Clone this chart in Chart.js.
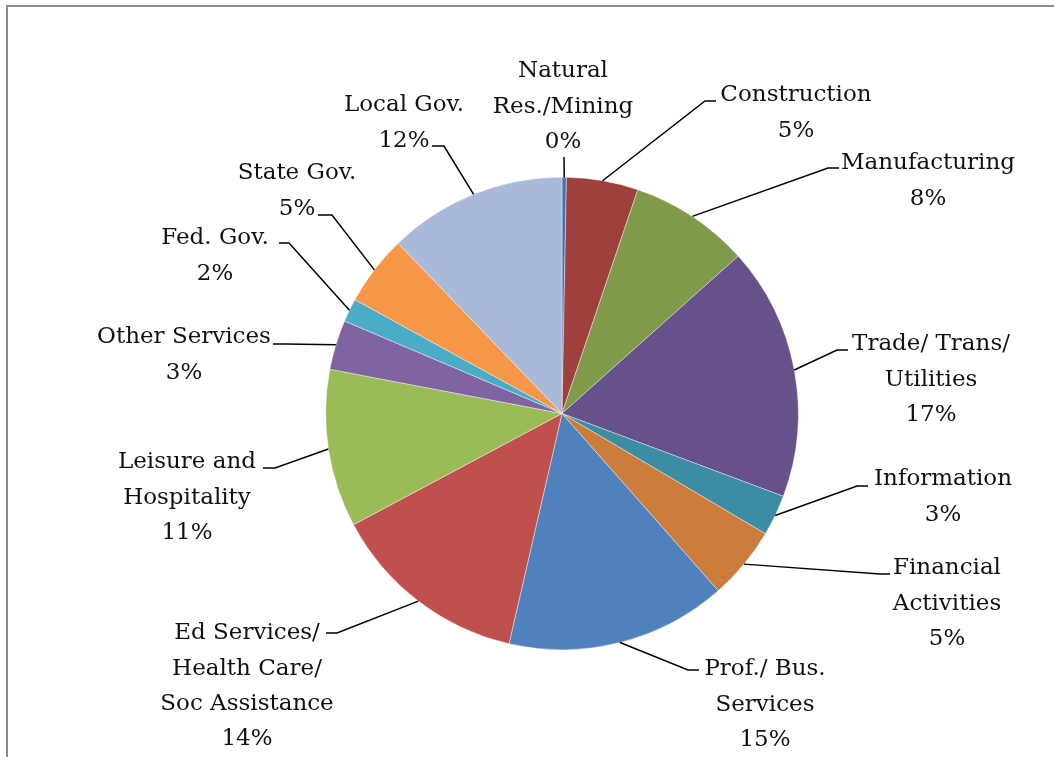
<!DOCTYPE html>
<html>
<head>
<meta charset="utf-8">
<script src="https://cdn.jsdelivr.net/npm/chart.js@4.4.1/dist/chart.umd.min.js"></script>
<style>
  html, body { margin: 0; padding: 0; background: #ffffff; }
  #wrap { width: 1054px; height: 757px; position: relative; }
  canvas { display: block; }
</style>
</head>
<body>
<div id="wrap"><canvas id="pie" width="1054" height="757"></canvas></div>
<script>
// Employment by industry sector, share of total (%)
const categories = [
  ['Natural', 'Res./Mining'],
  ['Construction'],
  ['Manufacturing'],
  ['Trade/ Trans/', 'Utilities'],
  ['Information'],
  ['Financial', 'Activities'],
  ['Prof./ Bus.', 'Services'],
  ['Ed Services/', 'Health Care/', 'Soc Assistance'],
  ['Leisure and', 'Hospitality'],
  ['Other Services'],
  ['Fed. Gov.'],
  ['State Gov.'],
  ['Local Gov.']
];
const shares = [0.3, 4.9, 8.2, 17.3, 2.8, 5.0, 15.1, 13.6, 10.8, 3.4, 1.6, 4.8, 12.2];

const sliceColors = [
  '#4272AD', '#9E413E', '#7F9A48', '#67518A', '#3C8DA3', '#CB7B3A', '#4F81BD',
  '#C0504D', '#9BBB59', '#8064A2', '#4BACC6', '#F79646', '#A9B9D9'
];

// Callout placement relative to the pie centre: elbow of the leader, end of the
// short horizontal stub, and the centre of the first text line.
const callouts = [
  { elbow: [2, -256.5],    stubX: 2,    text: [1, -344.5] },
  { elbow: [143, -312.5],  stubX: 154,  text: [234, -320.5] },
  { elbow: [266, -245.5],  stubX: 277,  text: [366, -252.5] },
  { elbow: [275, -63.5],   stubX: 286,  text: [369, -71.5] },
  { elbow: [295, 72.5],    stubX: 306,  text: [381, 63.5] },
  { elbow: [318, 160.5],   stubX: 328,  text: [385, 152.5] },
  { elbow: [126, 256.5],   stubX: 137,  text: [203, 253.5] },
  { elbow: [-225, 219.5],  stubX: -236, text: [-315, 217.5] },
  { elbow: [-287, 54.5],   stubX: -299, text: [-375, 46.5] },
  { elbow: [-277, -69.5],  stubX: -289, text: [-378, -78.5] },
  { elbow: [-273, -170.5], stubX: -283, text: [-347, -177.5] },
  { elbow: [-230, -198.5], stubX: -244, text: [-265, -242.5] },
  { elbow: [-118, -267.5], stubX: -130, text: [-158, -310.5] }
];

const FONT_SIZE = 23;
const LINE_GAP = 35.2;
const LABEL_FONT = FONT_SIZE + 'px "DejaVu Serif", serif';

const total = shares.reduce((a, b) => a + b, 0);
const pctText = v => Math.round(v / total * 100) + '%';

const framePlugin = {
  id: 'frame',
  beforeDraw(chart) {
    const ctx = chart.ctx;
    ctx.save();
    ctx.fillStyle = '#ffffff';
    ctx.fillRect(0, 0, chart.width, chart.height);
    ctx.fillStyle = '#8c8c8c';
    ctx.fillRect(6, 5, chart.width - 6, 2);
    ctx.fillRect(6, 5, 2, chart.height - 5);
    ctx.restore();
  }
};

const calloutPlugin = {
  id: 'callouts',
  afterDatasetsDraw(chart) {
    const ctx = chart.ctx;
    const meta = chart.getDatasetMeta(0);
    ctx.save();
    ctx.font = LABEL_FONT;
    ctx.textAlign = 'center';
    ctx.textBaseline = 'alphabetic';
    meta.data.forEach((arc, i) => {
      const { x, y, startAngle, endAngle, outerRadius } = arc.getProps(['x', 'y', 'startAngle', 'endAngle', 'outerRadius'], true);
      const mid = (startAngle + endAngle) / 2;
      const sx = x + Math.cos(mid) * outerRadius;
      const sy = y + Math.sin(mid) * outerRadius;
      const c = callouts[i];
      const ex = x + c.elbow[0], ey = y + c.elbow[1];
      ctx.strokeStyle = '#000000';
      ctx.lineWidth = 1.5;
      ctx.beginPath();
      ctx.moveTo(sx, sy);
      ctx.lineTo(ex, ey);
      ctx.lineTo(x + c.stubX, ey);
      ctx.stroke();

      const lines = categories[i].concat([pctText(shares[i])]);
      ctx.fillStyle = '#111111';
      const capHalf = FONT_SIZE * 0.729 / 2;
      lines.forEach((t, k) => {
        ctx.fillText(t, x + c.text[0], y + c.text[1] + k * LINE_GAP + capHalf);
      });
    });
    ctx.restore();
  }
};

new Chart(document.getElementById('pie'), {
  type: 'pie',
  data: {
    labels: categories,
    datasets: [{
      data: shares,
      backgroundColor: sliceColors,
      borderColor: '#ffffff',
      borderWidth: 0.4
    }]
  },
  options: {
    responsive: false,
    animation: false,
    events: [],
    layout: { padding: { left: 325.5, right: 255.5, top: 177, bottom: 107 } },
    plugins: { legend: { display: false }, tooltip: { enabled: false } }
  },
  plugins: [framePlugin, calloutPlugin]
});
</script>
</body>
</html>
